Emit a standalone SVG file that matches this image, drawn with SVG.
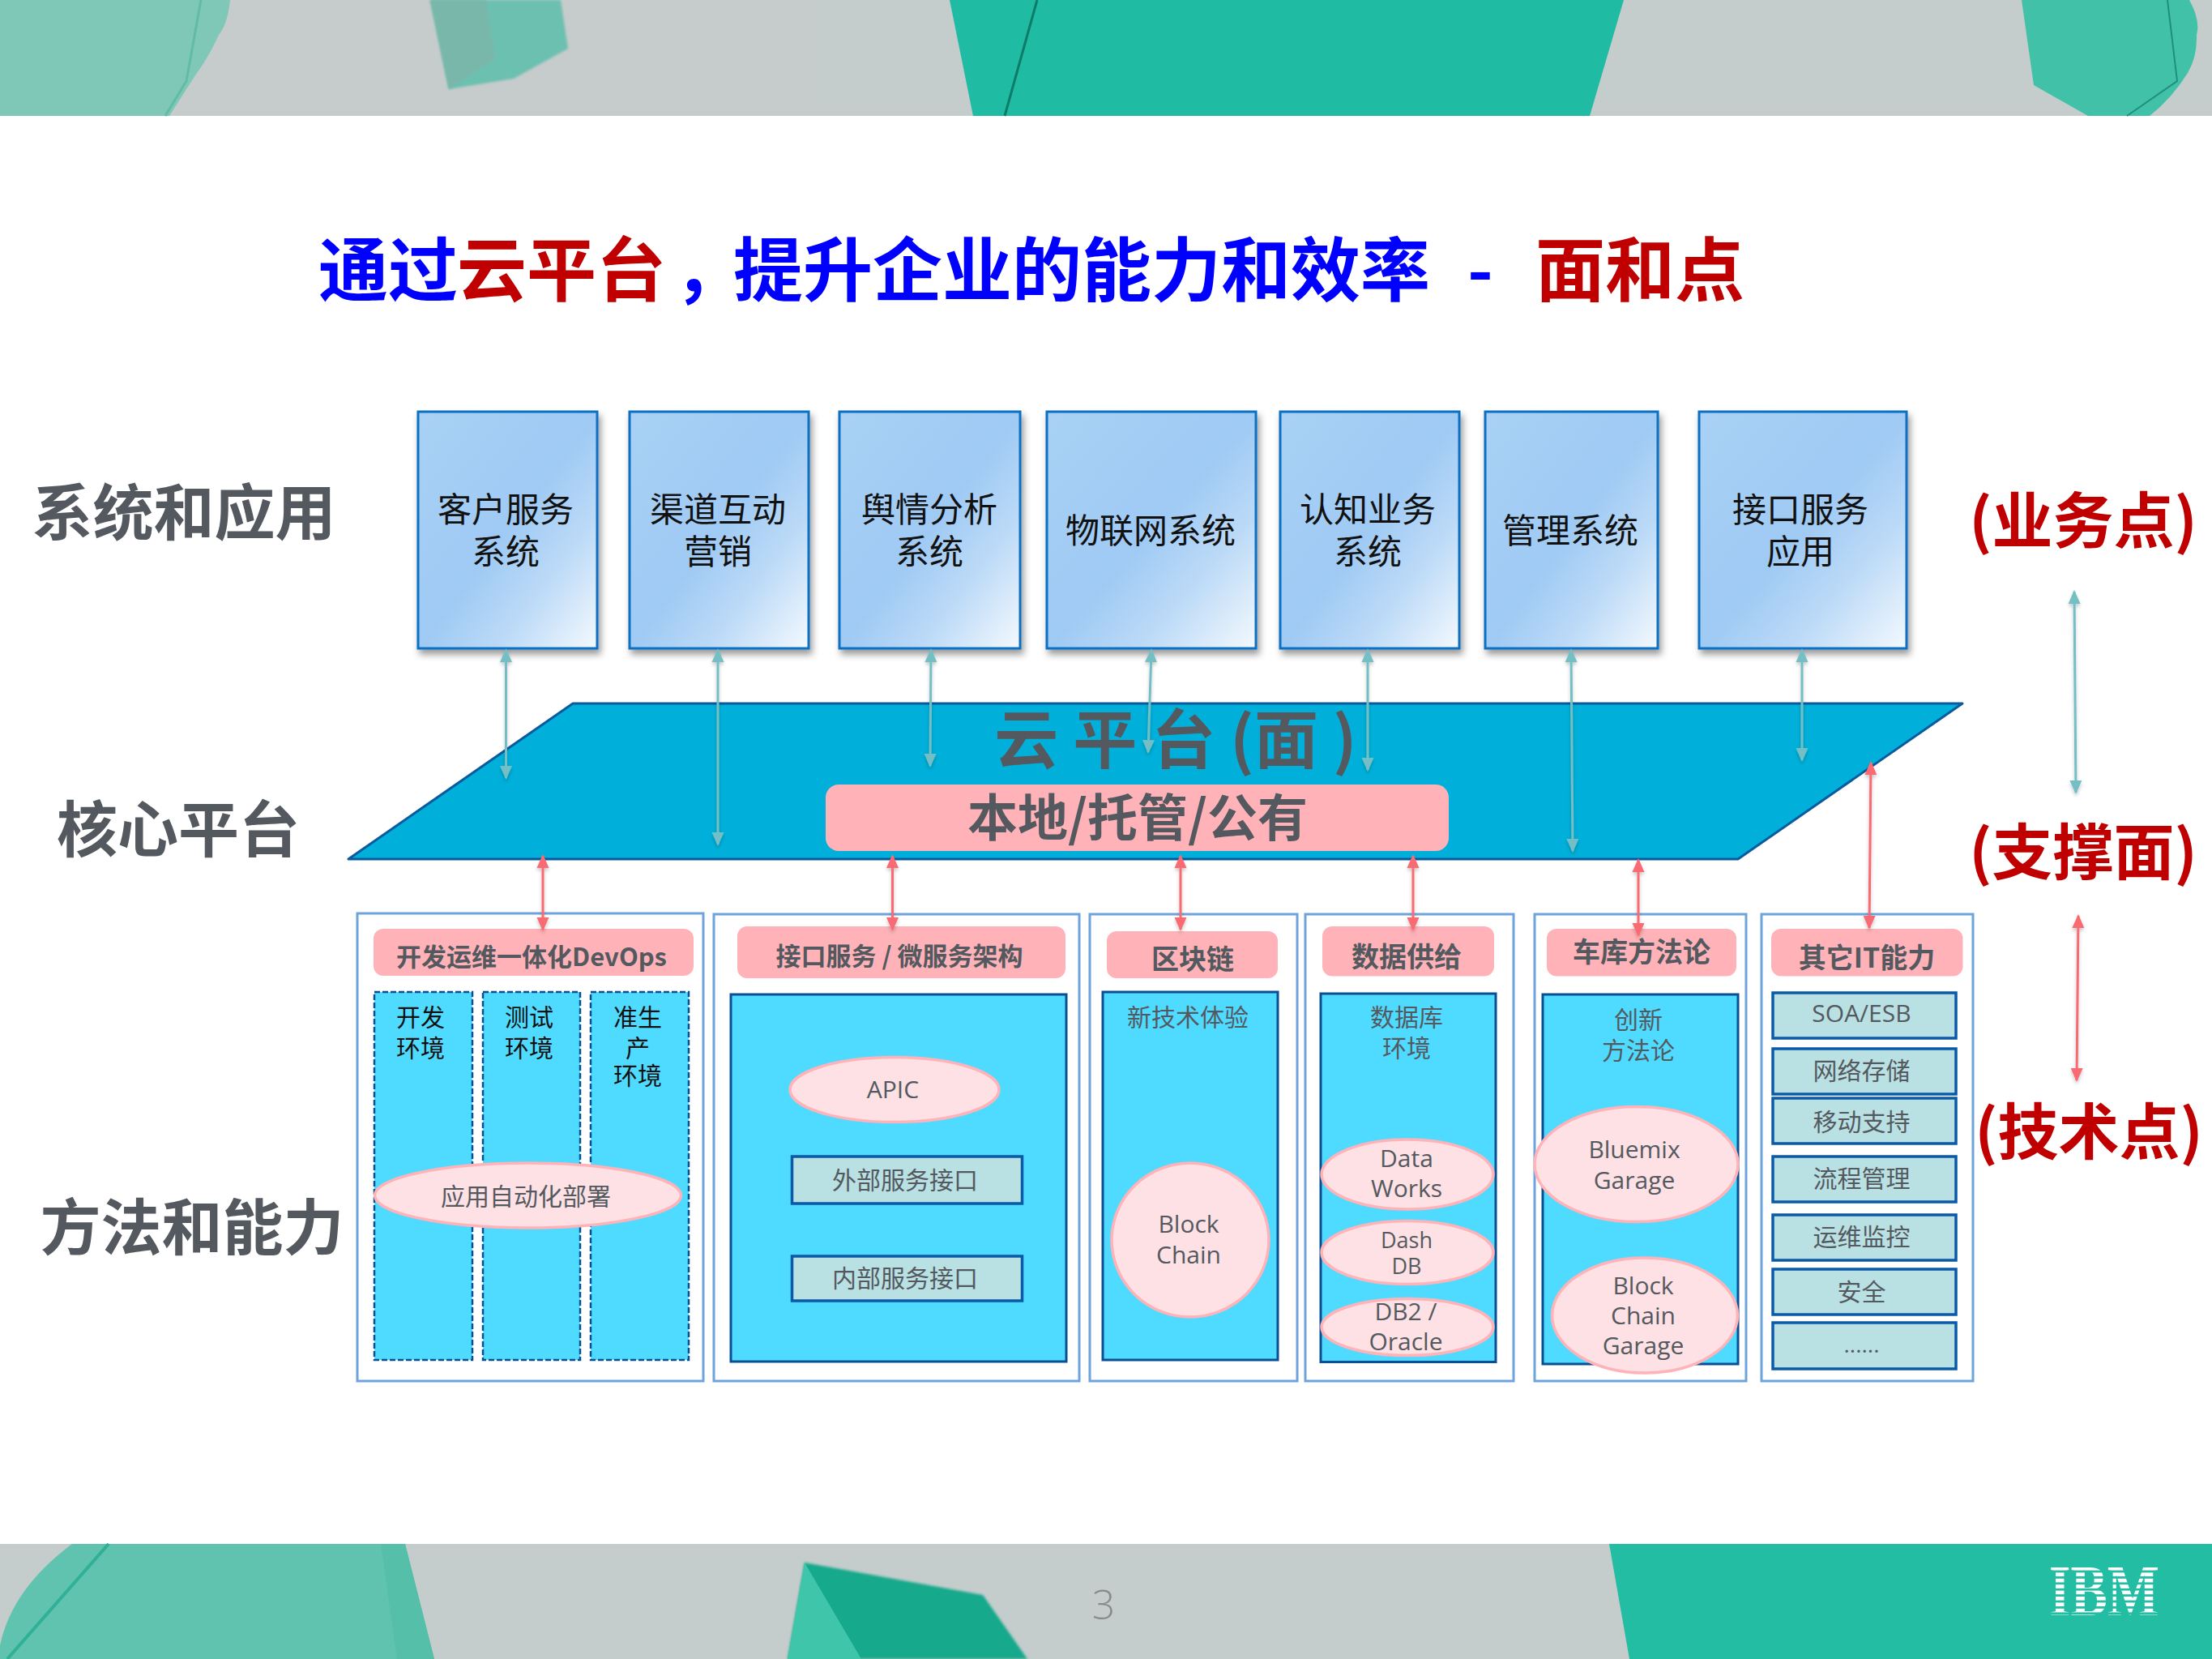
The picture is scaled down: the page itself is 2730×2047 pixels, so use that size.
<svg xmlns="http://www.w3.org/2000/svg" width="2730" height="2047" viewBox="0 0 2730 2047">
<style>
text{font-family:"Open Sans","Noto Sans CJK SC",sans-serif;text-anchor:middle;fill:#54595f;font-size:30px}
.cjk{font-family:"Noto Sans CJK SC",sans-serif}
.b{font-weight:700}
.lab{font-family:"Noto Sans CJK SC",sans-serif;font-weight:700;font-size:75px}
.red{font-family:"Noto Sans CJK SC",sans-serif;font-weight:700;font-size:75px;fill:#c00000}
.sys{font-family:"Noto Sans CJK SC",sans-serif;font-size:42px;fill:#111}
.blk{fill:#111}
.hd{font-family:"Noto Sans CJK SC",sans-serif;font-weight:700;font-size:34px}
.hs{font-size:31px}
.box{fill:url(#g);stroke:#0a6fc2;stroke-width:3;filter:url(#sh)}
.outer{fill:#fff;stroke:#6ea3dc;stroke-width:3}
.pink{fill:#ffb3b8}
.in{fill:#4fdbff;stroke:#0a4f94;stroke-width:3}
.dash{fill:#4fdbff;stroke:#0a4f94;stroke-width:2.5;stroke-dasharray:7 3}
.el{fill:#fde1e4;stroke:#ffb3b8;stroke-width:3.5}
.it{fill:#b9e0e2;stroke:#0a5aa8;stroke-width:3.5}
.t{stroke:#73bfc5;stroke-width:3;fill:none;marker-start:url(#ta);marker-end:url(#ta)}
.r{stroke:#f96b72;stroke-width:3;fill:none;marker-start:url(#ra);marker-end:url(#ra)}
</style>
<defs>
<linearGradient id="g" x1="0" y1="0" x2="1" y2="1"><stop offset="0" stop-color="#a9d1f5"/><stop offset=".5" stop-color="#9fcaf4"/><stop offset=".72" stop-color="#bcdaf7"/><stop offset="1" stop-color="#f4f9fe"/></linearGradient>
<filter id="sh" x="-10%" y="-10%" width="125%" height="125%"><feDropShadow dx="3" dy="6" stdDeviation="4" flood-color="#000" flood-opacity=".4"/></filter>
<filter id="csh" filterUnits="userSpaceOnUse" x="0" y="0" width="2730" height="2047"><feDropShadow dx="0" dy="3" stdDeviation="2" flood-color="#000" flood-opacity=".22"/></filter>
<filter id="bl" x="-5%" y="-5%" width="110%" height="110%"><feGaussianBlur stdDeviation="1.5"/></filter>
<marker id="ta" markerUnits="userSpaceOnUse" markerWidth="17" markerHeight="16" refX="15" refY="8" orient="auto-start-reverse"><path d="M0,.5L17,8L0,15.5Z" fill="#73bfc5"/></marker>
<marker id="ra" markerUnits="userSpaceOnUse" markerWidth="17" markerHeight="16" refX="15" refY="8" orient="auto-start-reverse"><path d="M0,.5L17,8L0,15.5Z" fill="#f96b72"/></marker>
<pattern id="st" patternUnits="userSpaceOnUse" width="10" height="7.4" patternTransform="translate(0,1933)"><rect width="10" height="4.6" fill="#fff"/></pattern>
</defs>

<g id="banner-top">
<rect width="2730" height="143" fill="#c6cccb"/>
<rect x="1000" width="1730" height="143" fill="#c4cdcb"/>
<path d="M0,0H284Q281,30 270,43Q258,70 241,93L209,143H0Z" fill="#7fc8b8"/>
<path d="M248,0L230,100L204,143" stroke="#62bba6" stroke-width="3" fill="none"/>
<path d="M531,0H692L701,60L634,97L554,110Z" fill="#6cc0b0" filter="url(#bl)"/>
<path d="M531,0H600L611,73L554,110Z" fill="#79b7aa" filter="url(#bl)"/>
<path d="M1172,0H2004L1962,143H1201Z" fill="#1fbca3"/>
<path d="M1280,0L1240,143" stroke="#0e7a68" stroke-width="3" fill="none"/>
<path d="M2495,0H2702Q2716,25 2711,43Q2712,70 2700,90Q2680,122 2653,143H2577L2510,105Z" fill="#42c1a9"/>
<path d="M2675,0L2687,100L2625,143" stroke="#1d8f7c" stroke-width="2" fill="none"/>
</g>
<g id="banner-bottom">
<rect y="1905" width="2730" height="142" fill="#c4cdcb"/>
<path d="M89,1905H500L536,2047H0V2030Q15,1960 89,1905Z" fill="#5fc3b0"/>
<path d="M470,1905H500L536,2047H490Z" fill="#55bfa9"/>
<path d="M134,1905L9,2047" stroke="#2fb097" stroke-width="4" fill="none"/>
<path d="M993,1928L1213,1968L1268,2047H972Z" fill="#14a98c" filter="url(#bl)"/>
<path d="M993,1928L1063,2047H972Z" fill="#3fc5aa"/>
<path d="M1986,1905H2730V2047H2011Z" fill="#22bda3"/>
<text id="page" x="1362" y="1998" style="font-size:50px;font-weight:300;fill:#8a8a8a">3</text>
<text id="ibm" x="2597" y="1992" textLength="136" lengthAdjust="spacingAndGlyphs" style="font-family:'Liberation Serif',serif;font-weight:700;font-size:89px;fill:url(#st)">IBM</text>
</g>

<text id="title" y="365" style="font-family:'Noto Sans CJK SC',sans-serif;font-weight:700;font-size:86px;text-anchor:start;fill:#0000ff"><tspan x="393">通过</tspan><tspan x="564" fill="#c00000">云平台</tspan><tspan x="832">，</tspan><tspan x="905">提升企业的能力和效率</tspan><tspan x="1811">-</tspan><tspan x="1895" fill="#c00000">面和点</tspan></text>

<g id="labels">
<text class="lab" x="227" y="660">系统和应用</text>
<text class="lab" x="220" y="1051">核心平台</text>
<text class="lab" x="237" y="1542">方法和能力</text>
<text class="red" x="2571" y="670">(业务点)</text>
<text class="red" x="2571" y="1079">(支撑面)</text>
<text class="red" x="2578" y="1424">(技术点)</text>
</g>

<g id="sys-1"><rect class="box" x="516" y="508" width="221" height="292"/><text class="sys" x="624" y="644">客户服务</text><text class="sys" x="624" y="696">系统</text></g>
<g id="sys-2"><rect class="box" x="777" y="508" width="221" height="292"/><text class="sys" x="886" y="644">渠道互动</text><text class="sys" x="886" y="696">营销</text></g>
<g id="sys-3"><rect class="box" x="1036" y="508" width="223" height="292"/><text class="sys" x="1147" y="644">舆情分析</text><text class="sys" x="1147" y="696">系统</text></g>
<g id="sys-4"><rect class="box" x="1292" y="508" width="258" height="292"/><text class="sys" x="1420" y="670">物联网系统</text></g>
<g id="sys-5"><rect class="box" x="1580" y="508" width="221" height="292"/><text class="sys" x="1688" y="644">认知业务</text><text class="sys" x="1688" y="696">系统</text></g>
<g id="sys-6"><rect class="box" x="1833" y="508" width="213" height="292"/><text class="sys" x="1938" y="670">管理系统</text></g>
<g id="sys-7"><rect class="box" x="2097" y="508" width="256" height="292"/><text class="sys" x="2222" y="644">接口服务</text><text class="sys" x="2222" y="696">应用</text></g>

<g id="platform">
<path d="M707,868H2422L2145,1060H430Z" fill="#00b0da" stroke="#0a5a9e" stroke-width="3" stroke-linejoin="round"/>
<text class="cjk b" x="1451" y="942" style="font-size:79px">云 平 台 (面 )</text>
<rect class="pink" x="1019" y="968" width="769" height="82" rx="16"/>
<text class="cjk b" x="1404" y="1032" style="font-size:62px">本地/托管/公有</text>
</g>

<g id="c1"><rect class="outer" x="441" y="1127" width="427" height="577"/>
<rect class="pink" x="461" y="1146" width="395" height="58" rx="12"/><text class="hd hs" x="656" y="1192" style="font-size:31px">开发运维一体化DevOps</text>
<rect class="dash" x="462" y="1224" width="121" height="454"/><rect class="dash" x="596" y="1224" width="120" height="454"/><rect class="dash" x="729" y="1224" width="121" height="454"/>
<text class="blk" x="519" y="1266">开发</text><text class="blk" x="519" y="1304">环境</text>
<text class="blk" x="653" y="1266">测试</text><text class="blk" x="653" y="1304">环境</text>
<text class="blk" x="787" y="1266">准生</text><text class="blk" x="787" y="1304">产</text><text class="blk" x="787" y="1338">环境</text>
<ellipse class="el" cx="651.5" cy="1475" rx="189" ry="40"/><text x="649" y="1487">应用自动化部署</text></g>

<g id="c2"><rect class="outer" x="881" y="1128" width="451" height="576"/>
<rect class="pink" x="910" y="1143" width="405" height="64" rx="12"/><text class="hd" x="1110" y="1191" style="font-size:31px">接口服务 / 微服务架构</text>
<rect class="in" x="902" y="1227" width="414" height="453"/>
<ellipse class="el" cx="1104" cy="1344.5" rx="129" ry="40"/><text x="1102" y="1355">APIC</text>
<rect class="it" x="977.5" y="1427" width="284" height="58"/><text x="1117" y="1467">外部服务接口</text>
<rect class="it" x="977.5" y="1550" width="284" height="55"/><text x="1117" y="1588">内部服务接口</text></g>

<g id="c3"><rect class="outer" x="1345" y="1128" width="256" height="576"/>
<rect class="pink" x="1366" y="1149" width="211" height="58" rx="12"/><text class="hd" x="1472" y="1196">区块链</text>
<rect class="in" x="1361" y="1224" width="216" height="454"/><text x="1466" y="1266">新技术体验</text>
<ellipse class="el" cx="1469" cy="1530" rx="97" ry="95"/><text x="1467" y="1521">Block</text><text x="1467" y="1559">Chain</text></g>

<g id="c4"><rect class="outer" x="1611" y="1128" width="257" height="576"/>
<rect class="pink" x="1632" y="1143" width="212" height="61.500" rx="12"/><text class="hd" x="1736" y="1193">数据供给</text>
<rect class="in" x="1630" y="1226" width="216" height="454.500"/><text x="1736" y="1266">数据库</text><text x="1736" y="1304">环境</text>
<ellipse class="el" cx="1737" cy="1449" rx="106" ry="43"/><text x="1736" y="1440">Data</text><text x="1736" y="1477">Works</text>
<ellipse class="el" cx="1737" cy="1545.500" rx="106" ry="39"/><text x="1736" y="1540" style="font-size:27px">Dash</text><text x="1736" y="1572" style="font-size:27px">DB</text>
<ellipse class="el" cx="1737" cy="1637.500" rx="106" ry="35"/><text x="1735" y="1629">DB2 /</text><text x="1735" y="1666">Oracle</text></g>

<g id="c5"><rect class="outer" x="1894" y="1128" width="261" height="576"/>
<rect class="pink" x="1909" y="1146" width="234" height="58.500" rx="12"/><text class="hd" x="2026" y="1187">车库方法论</text>
<rect class="in" x="1904" y="1227" width="241" height="456"/><text x="2022" y="1269">创新</text><text x="2022" y="1307">方法论</text>
<ellipse class="el" cx="2019.500" cy="1436.500" rx="125.500" ry="71"/><text x="2017" y="1429">Bluemix</text><text x="2017" y="1467">Garage</text>
<ellipse class="el" cx="2030" cy="1623" rx="114.500" ry="71"/><text x="2028" y="1597">Block</text><text x="2028" y="1634">Chain</text><text x="2028" y="1671">Garage</text></g>

<g id="c6"><rect class="outer" x="2174" y="1128" width="261" height="576"/>
<rect class="pink" x="2186" y="1146" width="236.500" height="58.500" rx="12"/><text class="hd" x="2304" y="1194">其它IT能力</text>
<rect class="it" x="2188" y="1225" width="226" height="56"/><text x="2297.500" y="1261">SOA/ESB</text>
<rect class="it" x="2188" y="1294" width="226" height="56"/><text x="2297.500" y="1332">网络存储</text>
<rect class="it" x="2188" y="1355" width="226" height="56"/><text x="2297.500" y="1395">移动支持</text>
<rect class="it" x="2188" y="1427" width="226" height="56"/><text x="2297.500" y="1465">流程管理</text>
<rect class="it" x="2188" y="1499" width="226" height="56"/><text x="2297.500" y="1537">运维监控</text>
<rect class="it" x="2188" y="1566" width="226" height="56"/><text x="2297.500" y="1604.500">安全</text>
<rect class="it" x="2188" y="1632" width="226" height="57"/><text x="2297.500" y="1669" style="font-size:28px">......</text></g>

<g id="connectors" filter="url(#csh)">
<path class="t" d="M624.500,802V960"/>
<path class="t" d="M886,802V1042"/>
<path class="t" d="M1149,802L1148,945"/>
<path class="t" d="M1421,802L1417,928"/>
<path class="t" d="M1688,802V950"/>
<path class="t" d="M1939,802L1941,1050"/>
<path class="t" d="M2224,802V938"/>
<path class="t" d="M2560,730L2562,978"/>
<path class="r" d="M670,1056V1147"/>
<path class="r" d="M1101.500,1056V1147"/>
<path class="r" d="M1457,1056V1147"/>
<path class="r" d="M1744,1056V1147"/>
<path class="r" d="M2022,1061V1154"/>
<path class="r" d="M2309,941L2307,1145"/>
<path class="r" d="M2565,1130L2563,1333"/>
</g>
</svg>
